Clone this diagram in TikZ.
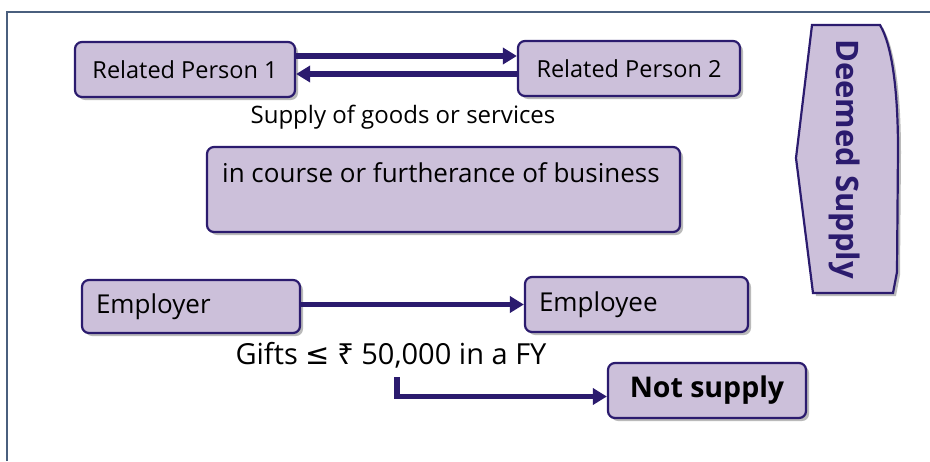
\documentclass[tikz,border=0pt]{standalone}
\usepackage{fontspec}
\setmainfont{Open Sans}
\newfontfamily\symfont{DejaVu Sans}
\newfontfamily\rupfont{Noto Sans}
\usetikzlibrary{arrows.meta,shadows}
\definecolor{ink}{HTML}{2B1B6E}
\definecolor{lav}{HTML}{CCC0DA}
\definecolor{framec}{HTML}{4A5F7E}

\begin{document}
\begin{tikzpicture}[x=1pt,y=-1pt,
  box/.style={draw=ink,fill=lav,line width=2.2pt,rounded corners=7pt,inner sep=0pt,
              minimum height=55pt,
              drop shadow={shadow xshift=3pt,shadow yshift=-3pt,fill=black!45,opacity=.6}},
  lbox/.style={box,align=left,inner xsep=14pt},
  arr/.style={-{Triangle[length=14pt,width=16pt]},draw=ink,line width=5.5pt},
  lbl/.style={inner sep=0pt}
]
\useasboundingbox (0,0) rectangle (930,461);
\draw[framec,line width=1.5pt] (7,461) -- (7,12) -- (930,12);

% related persons
\node[box,minimum width=220pt,font=\fontsize{23.5}{27}\selectfont] (rp1) at (185,69.5) {Related Person 1};
\node[box,minimum width=222pt,font=\fontsize{23.5}{27}\selectfont] (rp2) at (629,68.5) {Related Person 2};
\draw[arr] ([yshift=13.5pt]rp1.east) -- ([yshift=13.5pt]rp1.east -| rp2.west);
\draw[arr] ([yshift=-5.5pt]rp2.west) -- ([yshift=-5.5pt]rp2.west -| rp1.east);
\node[lbl,font=\fontsize{24}{28}\selectfont] (supply) at (403,117) {Supply of goods or services};

% business
\node[box,minimum width=473pt,minimum height=85pt] (biz) at (443.5,189.5) {};
\node[lbl,anchor=west,font=\fontsize{26}{30}\selectfont] (biztxt) at (222,173) {in course or furtherance of business};

% deemed supply
\draw[draw=ink,fill=lav,line width=2.2pt,
      drop shadow={shadow xshift=3pt,shadow yshift=-3pt,fill=black!45,opacity=.6}]
  (812,25) -- (880,25) .. controls (892,45) and (898,90) .. (898,150)
  -- (897,272) -- (893,293) -- (813,293) -- (796,158) -- cycle;
\node[lbl,rotate=-90,text=ink,font=\bfseries\fontsize{31}{35}\selectfont] (deemed) at (845,159) {Deemed Supply};

% employer / employee
\node[lbox,minimum width=218pt,text width=190pt,minimum height=53pt,font=\fontsize{26}{30}\selectfont] (empr) at (191,306.5) {Employer};
\node[lbox,minimum width=223pt,text width=195pt,font=\fontsize{26}{30}\selectfont] (empe) at (636.5,304.5) {Employee};
\draw[arr] ([yshift=2pt]empr.east) -- ([yshift=2pt]empr.east -| empe.west);
\node[lbl,font=\fontsize{29}{33}\selectfont] (gifts) at (391,355) {Gifts {\symfont ≤} {\rupfont ₹} 50,000 in a FY};

% not supply
\node[box,minimum width=198pt,font=\bfseries\fontsize{28.5}{32}\selectfont] (nots) at (707,390.5) {Not supply};
\coordinate (gstart) at (397,377);
\draw[arr] (gstart) |- ([yshift=-6pt]nots.west);
\end{tikzpicture}
\end{document}
